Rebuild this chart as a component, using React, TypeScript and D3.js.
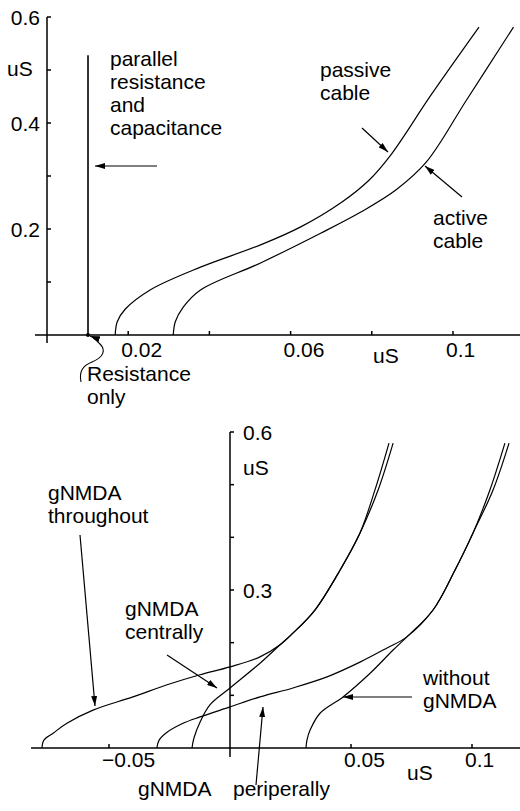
import React from 'react';
import * as d3 from 'd3';

// top panel: input conductance curves (uS vs uS)
const passiveCable = [
  [0.0168, 0], [0.0173, 0.025], [0.0193, 0.049], [0.0254, 0.085], [0.0378, 0.128],
  [0.0526, 0.17], [0.0625, 0.204], [0.0723, 0.249], [0.0793, 0.292], [0.0847, 0.34],
  [0.0946, 0.453], [0.1064, 0.581],
];
const activeCable = [
  [0.0311, 0], [0.0316, 0.025], [0.0336, 0.053], [0.0378, 0.085], [0.0526, 0.136],
  [0.0674, 0.192], [0.0773, 0.232], [0.086, 0.274], [0.0934, 0.326], [0.1033, 0.443],
  [0.1149, 0.581],
];
const parallelRC = [[0.0101, 0], [0.0101, 0.528]];
const resistanceOnly = [0.0101, 0];

const topXTicks = [0.02, 0.04, 0.06, 0.08, 0.1];
const topXLabels = ['0.02', '', '0.06', '', '0.1'];
const topYTicks = [0.1, 0.2, 0.3, 0.4, 0.5, 0.6];
const topYLabels = ['', '0.2', '', '0.4', 'uS', '0.6'];

// bottom panel: gNMDA distributions
const gThroughout = [
  [-0.0777, 0], [-0.0769, 0.015], [-0.0731, 0.028], [-0.0674, 0.047], [-0.0566, 0.072],
  [-0.0401, 0.097], [-0.026, 0.12], [-0.0124, 0.139], [0, 0.154], [0.0124, 0.173],
  [0.0207, 0.196], [0.026, 0.218], [0.0351, 0.262], [0.0455, 0.338], [0.0537, 0.408],
  [0.0599, 0.49], [0.0657, 0.579],
];
const gCentrally = [
  [-0.0157, 0], [-0.0149, 0.019], [-0.0124, 0.049], [-0.0083, 0.082], [0, 0.114],
  [0.0124, 0.161], [0.0207, 0.196], [0.026, 0.218], [0.0351, 0.262], [0.0455, 0.338],
  [0.0537, 0.408], [0.0612, 0.49], [0.0674, 0.579],
];
const gPeripherally = [
  [-0.0302, 0], [-0.0293, 0.015], [-0.026, 0.03], [-0.0194, 0.047], [-0.0124, 0.059],
  [0, 0.078], [0.0124, 0.097], [0.026, 0.114], [0.0401, 0.135], [0.0537, 0.163],
  [0.0649, 0.19], [0.0731, 0.211], [0.0839, 0.262], [0.093, 0.338], [0.1004, 0.408],
  [0.1074, 0.49], [0.1136, 0.579],
];
const gWithout = [
  [0.0314, 0], [0.0318, 0.015], [0.0331, 0.034], [0.0372, 0.066], [0.0467, 0.097],
  [0.0579, 0.142], [0.0674, 0.186], [0.0731, 0.211], [0.0839, 0.262], [0.093, 0.338],
  [0.1004, 0.408], [0.1087, 0.49], [0.1153, 0.579],
];

const botXTicks = [-0.05, 0.05, 0.1];
const botXLabels = ['\u22120.05', '0.05', '0.1'];
const botYTicks = [0.1, 0.2, 0.3, 0.4, 0.5, 0.6];
const botYLabels = ['', '', '0.3', '', '', '0.6'];

const FONT = '"Liberation Sans", Arial, Helvetica, sans-serif';

const Arrow = ({ x1, y1, x2, y2 }) => (
  <line x1={x1} y1={y1} x2={x2} y2={y2} stroke="#000" strokeWidth={1.2} markerEnd="url(#head)" />
);

const Lines = ({ x, y, lines, dy = 23 }) => (
  <text x={x} y={y}>
    {lines.map((l, i) => (
      <tspan key={i} x={x} dy={i === 0 ? 0 : dy}>{l}</tspan>
    ))}
  </text>
);

export default function App() {
  const xTop = d3.scaleLinear().domain([0, 0.1]).range([47, 453]);
  const yTop = d3.scaleLinear().domain([0, 0.6]).range([335, 17]);
  const xBot = d3.scaleLinear().domain([0, 0.1]).range([230, 472]);
  const yBot = d3.scaleLinear().domain([0, 0.6]).range([748, 432]);

  const lineTop = d3.line().x(d => xTop(d[0])).y(d => yTop(d[1])).curve(d3.curveCatmullRom.alpha(0.5));
  const lineBot = d3.line().x(d => xBot(d[0])).y(d => yBot(d[1])).curve(d3.curveCatmullRom.alpha(0.5));

  return (
    <svg width={520} height={811} style={{ position: 'absolute', left: 0, top: 0, background: '#fff' }}
      fontFamily={FONT} fontSize={21}>
      <defs>
        <marker id="head" markerUnits="userSpaceOnUse" viewBox="0 0 10 6" refX={10} refY={3}
          markerWidth={10} markerHeight={6} orient="auto">
          <path d="M0,0 L10,3 L0,6 Z" fill="#000" />
        </marker>
      </defs>
      <rect width={520} height={811} fill="#fff" />

      {/* ---------- top panel ---------- */}
      <g stroke="#000" strokeWidth={1.5}>
        <line x1={35} x2={520} y1={yTop(0)} y2={yTop(0)} />
        <line x1={xTop(0)} x2={xTop(0)} y1={yTop(0.6)} y2={yTop(0) + 8} />
        {topXTicks.map(t => (
          <line key={t} x1={xTop(t)} x2={xTop(t)} y1={yTop(0)} y2={yTop(0) - 4} />
        ))}
        {topYTicks.map(t => (
          <line key={t} x1={xTop(0)} x2={xTop(0) + 4} y1={yTop(t)} y2={yTop(t)} />
        ))}
      </g>
      {topXTicks.map((t, i) => topXLabels[i] && (
        <text key={t} x={xTop(t) - 7} y={357}>{topXLabels[i]}</text>
      ))}
      <text x={373} y={363}>uS</text>
      {topYTicks.map((t, i) => topYLabels[i] && (
        topYLabels[i] === 'uS'
          ? <text key={t} x={7} y={yTop(t) + 6}>uS</text>
          : <text key={t} x={40} y={yTop(t) + 8} textAnchor="end">{topYLabels[i]}</text>
      ))}

      <g fill="none" stroke="#000" strokeWidth={1.2}>
        <path d={lineTop(passiveCable)} />
        <path d={lineTop(activeCable)} />
        <path d={d3.line().x(d => xTop(d[0])).y(d => yTop(d[1]))(parallelRC)} strokeWidth={1.6} />
      </g>
      <circle cx={xTop(resistanceOnly[0])} cy={yTop(resistanceOnly[1])} r={2} fill="#000" />
      <path d="M81,382 C79,372 82,366 92,362 C104,357 106,350 100,344 C96,340 93,337 90,336"
        fill="none" stroke="#000" strokeWidth={1.1} markerEnd="url(#head)" />

      <Lines x={110} y={66} lines={['parallel', 'resistance', 'and', 'capacitance']} />
      <Arrow x1={157} y1={166} x2={95} y2={166} />
      <Lines x={320} y={77} lines={['passive', 'cable']} />
      <Arrow x1={362} y1={128} x2={388} y2={152} />
      <Lines x={433} y={225} lines={['active', 'cable']} />
      <Arrow x1={462} y1={197} x2={425} y2={166} />
      <Lines x={87} y={381} lines={['Resistance', 'only']} />

      {/* ---------- bottom panel ---------- */}
      <g stroke="#000" strokeWidth={1.5}>
        <line x1={31} x2={520} y1={yBot(0)} y2={yBot(0)} />
        <line x1={xBot(0)} x2={xBot(0)} y1={yBot(0.6)} y2={yBot(0) + 9} />
        {botXTicks.map(t => (
          <line key={t} x1={xBot(t)} x2={xBot(t)} y1={yBot(0)} y2={yBot(0) - 4} />
        ))}
        {botYTicks.map(t => (
          <line key={t} x1={xBot(0)} x2={xBot(0) + 4} y1={yBot(t)} y2={yBot(t)} />
        ))}
      </g>
      {botXTicks.map((t, i) => (
        <text key={t} x={xBot(t) - 7} y={767}>{botXLabels[i]}</text>
      ))}
      <text x={407} y={780}>uS</text>
      {botYTicks.map((t, i) => botYLabels[i] && (
        <text key={t} x={243} y={yBot(t) + 8}>{botYLabels[i]}</text>
      ))}
      <text x={243} y={475}>uS</text>

      <g fill="none" stroke="#000" strokeWidth={1.2}>
        <path d={lineBot(gThroughout)} />
        <path d={lineBot(gCentrally)} />
        <path d={lineBot(gPeripherally)} />
        <path d={lineBot(gWithout)} />
      </g>

      <Lines x={48} y={500} lines={['gNMDA', 'throughout']} />
      <Arrow x1={80} y1={535} x2={95} y2={706} />
      <Lines x={125} y={616} lines={['gNMDA', 'centrally']} />
      <Arrow x1={167} y1={655} x2={217} y2={688} />
      <Lines x={423} y={685} lines={['without', 'gNMDA']} />
      <Arrow x1={412} y1={697} x2={343} y2={697} />
      <text x={138} y={796}>gNMDA</text>
      <text x={233} y={796}>periperally</text>
      <Arrow x1={256} y1={785} x2={263} y2={707} />
    </svg>
  );
}
